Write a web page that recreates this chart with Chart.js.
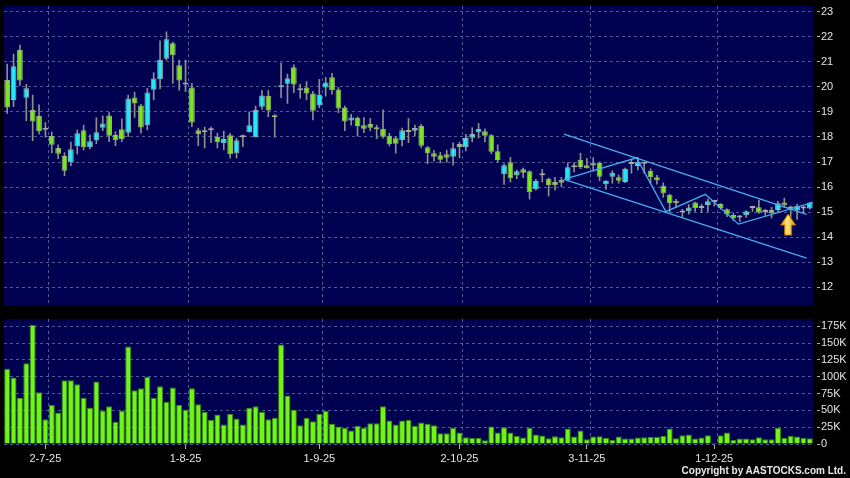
<!DOCTYPE html>
<html>
<head>
<meta charset="utf-8">
<title>Price and volume</title>
<script src="https://cdn.jsdelivr.net/npm/chart.js@4.4.1/dist/chart.umd.min.js"></script>
<style>
  html, body { margin: 0; padding: 0; background: #000; }
  #wrap { position: relative; width: 850px; height: 478px; overflow: hidden; }
  #price { position: absolute; left: 0; top: 0; }
  #volume { position: absolute; left: 0; top: 312px; }
  #copy { position: absolute; right: 4px; top: 465px; font: bold 10px "Liberation Sans", Arial, sans-serif; color: #e8e8e8; }
</style>
</head>
<body>
<div id="wrap">
  <canvas id="price" width="850" height="312"></canvas>
  <canvas id="volume" width="850" height="166"></canvas>
  <div id="copy">Copyright by AASTOCKS.com Ltd.</div>
</div>
<script>
// trading days, month-year -> days
const tradingDays = [
  ['6-25', [23, 24, 25, 26, 27, 30]],
  ['7-25', [2, 3, 4, 7, 8, 9, 10, 11, 14, 15, 16, 17, 18, 21, 22, 23, 24, 25, 28, 29, 30, 31]],
  ['8-25', [1, 4, 5, 6, 7, 8, 11, 12, 13, 14, 15, 18, 19, 20, 21, 22, 25, 26, 27, 28, 29]],
  ['9-25', [1, 2, 3, 4, 5, 8, 9, 10, 11, 12, 15, 16, 17, 18, 19, 22, 23, 24, 25, 26, 29, 30]],
  ['10-25', [2, 3, 6, 8, 9, 10, 13, 14, 15, 16, 17, 20, 21, 22, 23, 24, 27, 28, 30, 31]],
  ['11-25', [3, 4, 5, 6, 7, 10, 11, 12, 13, 14, 17, 18, 19, 20, 21, 24, 25, 26, 27, 28]],
  ['12-25', [1, 2, 3, 4, 5, 8, 9, 10, 11, 12, 15, 16, 17, 18, 19, 22]]
];
const dateLabels = ['2-7-25', '1-8-25', '1-9-25', '2-10-25', '3-11-25', '1-12-25'];

const open = [20.27,19.48,21.47,19.57,19.08,18.84,18.29,18.04,17.56,17.24,
  16.99,17.63,18.27,17.59,17.87,18.37,18.86,18.08,18.31,18.17,
  19.58,19.26,18.47,19.89,20.30,21.12,21.74,20.86,20.10,19.98,
  18.27,18.19,18.27,18.00,17.75,18.07,17.35,17.99,18.19,17.99,
  19.21,19.65,18.86,19.99,20.13,20.78,19.87,19.98,19.74,19.26,
  19.98,20.38,19.90,19.18,18.66,18.77,18.47,18.52,18.39,18.33,
  18.05,17.95,17.87,18.25,18.25,18.44,17.59,17.35,17.27,17.31,
  17.21,17.72,17.59,17.97,18.19,18.23,18.07,17.43,16.51,16.99,
  16.47,16.71,16.63,15.91,16.47,16.33,16.20,16.28,16.27,16.79,
  17.09,16.87,16.87,16.97,16.11,16.41,16.39,16.20,16.92,16.84,
  16.93,16.65,16.39,16.05,15.69,15.45,14.98,15.03,15.38,15.16,
  15.28,15.40,15.32,15.11,14.88,14.78,14.87,15.16,15.19,15.00,
  15.08,15.08,15.38,15.14,15.06,15.14,15.14];
const high = [20.91,21.31,21.67,20.10,19.67,19.28,18.58,18.20,17.69,17.37,
  17.80,18.28,18.47,18.09,18.77,18.84,18.97,18.21,18.72,19.67,
  19.79,19.30,19.94,20.57,21.84,22.20,21.79,21.07,21.07,20.14,
  18.35,18.39,18.39,18.15,18.23,18.15,17.95,18.09,19.00,19.23,
  19.86,19.86,18.90,20.96,20.51,20.88,20.11,20.21,19.82,20.30,
  20.38,20.54,19.98,19.24,18.90,18.80,18.77,18.74,18.47,19.08,
  18.15,18.01,18.35,18.74,18.47,18.51,17.62,17.47,17.39,17.48,
  17.77,17.79,18.11,18.37,18.54,18.32,18.10,17.69,16.93,17.19,
  16.68,16.76,16.65,16.31,16.71,16.36,16.39,16.39,16.97,16.97,
  17.35,17.15,17.17,17.00,16.26,16.65,16.48,16.76,17.11,17.19,
  16.97,16.73,16.47,16.17,15.72,15.51,15.11,15.30,15.40,15.32,
  15.52,15.48,15.34,15.13,14.95,14.87,15.05,15.24,15.48,15.11,
  15.19,15.43,15.56,15.24,15.32,15.24,15.40];
const low = [18.94,19.21,20.06,18.65,17.85,18.12,17.99,17.37,17.13,16.45,
  16.85,17.32,17.48,17.52,17.73,18.25,17.81,17.65,17.81,18.01,
  18.78,18.15,18.28,19.48,19.93,21.07,20.14,19.87,19.81,18.41,
  17.65,17.56,17.77,17.56,17.49,17.15,17.16,17.61,18.19,17.99,
  19.10,18.81,17.99,19.57,19.34,19.77,19.55,19.48,18.68,19.17,
  19.63,19.71,18.97,18.25,18.47,18.04,18.17,18.24,17.93,17.95,
  17.64,17.35,17.64,17.77,18.04,17.57,16.93,17.03,16.96,16.99,
  16.87,17.17,17.44,17.80,17.96,17.80,17.33,17.00,16.11,16.20,
  16.33,16.37,15.52,15.88,16.20,15.64,15.88,16.01,16.24,16.60,
  16.73,16.75,16.64,16.25,15.91,16.15,16.15,16.17,16.55,16.68,
  16.55,16.15,16.12,15.59,15.00,15.19,14.79,14.92,15.03,14.98,
  15.03,15.24,15.11,14.82,14.66,14.62,14.79,15.03,14.95,14.87,
  14.76,15.02,15.19,14.79,14.71,14.95,15.12];
const close = [19.18,20.82,20.25,19.95,18.62,18.23,18.29,17.69,17.33,16.65,
  17.51,18.15,17.59,17.83,18.19,18.54,18.05,17.87,17.91,19.54,
  19.34,18.38,19.78,20.33,21.08,21.90,21.26,20.25,20.10,18.58,
  18.11,18.19,18.27,17.79,17.92,17.31,17.87,17.99,18.47,19.08,
  19.66,19.06,18.79,20.07,20.34,20.10,19.87,19.74,19.05,19.70,
  20.18,19.87,19.14,18.62,18.78,18.44,18.33,18.37,18.31,18.01,
  17.71,17.73,18.27,18.20,18.36,17.65,17.35,17.21,17.09,17.17,
  17.55,17.60,17.96,18.12,18.32,18.05,17.41,17.08,16.87,16.35,
  16.63,16.57,15.79,16.24,16.47,16.07,16.07,16.17,16.79,16.79,
  16.80,16.75,16.87,16.41,16.24,16.57,16.25,16.73,16.92,16.99,
  16.93,16.39,16.27,15.75,15.35,15.35,14.98,15.18,15.15,15.16,
  15.43,15.40,15.16,14.90,14.75,14.78,15.03,15.16,14.98,15.00,
  14.95,15.35,15.27,15.14,15.24,15.14,15.38];
// volume in thousands of shares
const volumeK = [112,99,69,120,177,77,37,58,47,95,
  95,89,69,54,93,50,56,33,50,145,
  80,83,100,69,86,63,84,58,51,83,
  59,48,36,44,29,45,38,29,54,56,
  48,37,39,148,72,51,28,39,34,45,
  49,30,26,24,20,27,24,31,31,56,
  35,29,35,36,27,32,30,28,16,16,
  24,17,10,9,9,5.5,26,17,25,17,
  12,9.5,24,14,12.5,8.5,11.5,10,23,11,
  20,7,11,11.5,9,6.5,11,8,8,9.5,
  10,10.5,10.5,12,23,8.5,13,14,8,9.5,
  13,2,13,17,6,8,8,7,10,7,
  7,24,9,12,11,9,8.5];

const priceTicks = [12, 13, 14, 15, 16, 17, 18, 19, 20, 21, 22, 23];
const volumeTicks = [0, 25, 50, 75, 100, 125, 150, 175];

// hand-drawn trend lines: [bar index, price]
const channelUpper = [[87.4, 18.11], [125.5, 14.91]];
const channelLower = [[87.4, 16.31], [125.5, 13.16]];
const zigzag = [[87.4, 16.31], [98.8, 17.17], [103.4, 15.02], [109.6, 15.71], [114.8, 14.52], [126.5, 15.39]];
const arrowAt = [122.6, 14.92];

const dates = tradingDays.flatMap(([my, days]) => days.map(d => d + '-' + my));
const dateTicks = dateLabels.map(l => dates.indexOf(l));

const UP = '#26e8f4', DOWN = '#7be61e', FLAT = '#a8a8a8';
const UP_EDGE = '#8fb0bc', DOWN_EDGE = '#9cb27e';
const PANEL = '#000050', GRID = '#4d5c98', TEXT = '#e4e4e4', TREND = '#45aef0';
const FONT = { family: '"Liberation Sans", Arial, sans-serif', size: 11 };

const bodyColor = close.map((c, i) => c > open[i] ? UP : c < open[i] ? DOWN : FLAT);
const bodyEdge = close.map((c, i) => c > open[i] ? UP_EDGE : c < open[i] ? DOWN_EDGE : FLAT);

const panelBg = {
  id: 'panelBg',
  beforeDraw(chart) {
    const { ctx, chartArea: a } = chart;
    ctx.save();
    ctx.fillStyle = PANEL;
    ctx.fillRect(a.left, a.top, a.right - a.left, a.bottom - a.top);
    ctx.restore();
  }
};

const arrowMark = {
  id: 'arrowMark',
  afterDatasetsDraw(chart) {
    const { ctx } = chart;
    const x = chart.scales.xg.getPixelForValue(arrowAt[0]);
    const y = chart.scales.y.getPixelForValue(arrowAt[1]);
    ctx.save();
    ctx.beginPath();
    ctx.moveTo(x, y);
    ctx.lineTo(x + 7.5, y + 11);
    ctx.lineTo(x + 3.5, y + 11);
    ctx.lineTo(x + 3.5, y + 21);
    ctx.lineTo(x - 3.5, y + 21);
    ctx.lineTo(x - 3.5, y + 11);
    ctx.lineTo(x - 7.5, y + 11);
    ctx.closePath();
    const g = ctx.createLinearGradient(x - 7, 0, x + 7, 0);
    g.addColorStop(0, '#f0a000');
    g.addColorStop(0.45, '#ffe680');
    g.addColorStop(1, '#e09000');
    ctx.fillStyle = g;
    ctx.fill();
    ctx.strokeStyle = '#b07000';
    ctx.lineWidth = 1;
    ctx.stroke();
    ctx.restore();
  }
};

// vertical dashed lines sit on the bar boundary after each labelled day
const gridAxis = {
  type: 'linear', position: 'top', display: true,
  min: -0.5, max: dates.length - 0.5, offset: false,
  afterBuildTicks: s => { s.ticks = dateTicks.map(i => ({ value: i + 0.5 })); },
  afterFit: s => { s.height = 0; s.paddingLeft = 0; s.paddingRight = 0; },
  ticks: { display: false },
  grid: { color: GRID, drawTicks: false, offset: false },
  border: { display: false, dash: [3, 3] }
};

function rightAxis(min, max, ticks, fmt) {
  return {
    position: 'right', min, max,
    afterBuildTicks: s => { s.ticks = ticks.map(v => ({ value: v })); },
    afterFit: s => { s.width = 37; s.paddingTop = 0; s.paddingBottom = 0; },
    ticks: { color: TEXT, font: FONT, padding: 1, callback: fmt },
    grid: { color: GRID, tickColor: '#b0b0b0', tickLength: 7, tickBorderDash: [0, 4, 3, 30] },
    border: { display: false, dash: [3, 3] }
  };
}

const lineSet = pts => ({
  type: 'line', xAxisID: 'xg', order: 0,
  data: pts.map(([x, y]) => ({ x, y })),
  borderColor: TREND, borderWidth: 1.3, pointRadius: 0, fill: false, tension: 0
});

new Chart(document.getElementById('price'), {
  type: 'bar',
  data: {
    labels: dates,
    datasets: [
      lineSet(channelUpper),
      lineSet(channelLower),
      lineSet(zigzag),
      {
        order: 1, grouped: false,
        data: open.map((o, i) => [o, close[i]]),
        backgroundColor: bodyColor, borderColor: bodyEdge, borderWidth: 1,
        borderSkipped: false, minBarLength: 2,
        barPercentage: 0.9, categoryPercentage: 1
      },
      {
        order: 2, grouped: false,
        data: low.map((l, i) => [l, high[i]]),
        backgroundColor: '#8e8e8e', barThickness: 1
      }
    ]
  },
  options: {
    responsive: false, animation: false, events: [],
    layout: { padding: { left: 4, top: 6, right: 0, bottom: 6 } },
    plugins: { legend: { display: false }, tooltip: { enabled: false } },
    scales: {
      x: { display: false, offset: true },
      xg: gridAxis,
      y: rightAxis(11.25, 23.23, priceTicks, v => String(v))
    }
  },
  plugins: [panelBg, arrowMark]
});

new Chart(document.getElementById('volume'), {
  type: 'bar',
  data: {
    labels: dates,
    datasets: [{
      data: volumeK,
      backgroundColor: '#6ff516', borderColor: '#3a8412', borderWidth: 1,
      barPercentage: 0.95, categoryPercentage: 1
    }]
  },
  options: {
    responsive: false, animation: false, events: [],
    layout: { padding: { left: 4, top: 7, right: 0, bottom: 0 } },
    plugins: { legend: { display: false }, tooltip: { enabled: false } },
    scales: {
      x: {
        position: 'bottom', offset: true,
        afterBuildTicks: s => { s.ticks = dateTicks.map(i => ({ value: i })); },
        afterFit: s => { s.height = 34; s.paddingLeft = 0; s.paddingRight = 0; },
        ticks: { color: TEXT, font: FONT, padding: 3, autoSkip: false, maxRotation: 0 },
        grid: { drawOnChartArea: false, offset: false, tickLength: 5, tickColor: '#b0b0b0' },
        border: { display: false }
      },
      xg: gridAxis,
      y: rightAxis(0, 186, volumeTicks, v => v === 0 ? '0' : v + 'K')
    }
  },
  plugins: [panelBg]
});
</script>
</body>
</html>
